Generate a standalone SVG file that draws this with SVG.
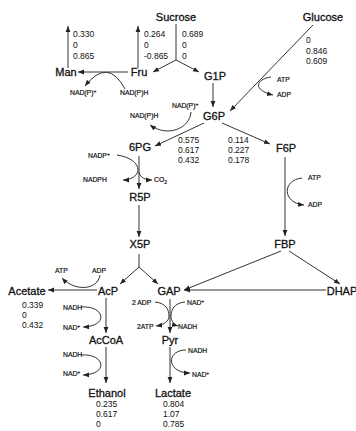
<svg xmlns="http://www.w3.org/2000/svg" width="356" height="431" viewBox="0 0 356 431">
<style>
text{font-family:"Liberation Sans",Arial,sans-serif;fill:#111}
.n{font-size:11px;text-anchor:middle;stroke:#111;stroke-width:0.3}
.v{font-size:8.5px}
.c{font-size:6.8px;stroke:#111;stroke-width:0.2}
.s{font-size:5px}
line,path{stroke:#333;stroke-width:1;fill:none}
.a{marker-end:url(#ah)}
</style>
<defs>
<marker id="ah" viewBox="0 0 6 6" refX="6" refY="3" markerWidth="6" markerHeight="6" orient="auto" markerUnits="userSpaceOnUse">
<path d="M0,0.6 L6,3 L0,5.4 z" style="fill:#222;stroke:none"/>
</marker>
</defs>
<rect width="356" height="431" fill="#fff"/>
<g id="connectors">
<line class="a" x1="68" y1="68" x2="68" y2="26"/>
<line class="a" x1="138" y1="68" x2="138" y2="26"/>
<line x1="176" y1="24" x2="176" y2="60"/>
<line class="a" x1="176" y1="60" x2="153" y2="72"/>
<line class="a" x1="176" y1="60" x2="199" y2="72"/>
<line class="a" x1="128" y1="72" x2="78" y2="72"/>
<path class="a" d="M125,89 Q108,57 85,86"/>
<line class="a" x1="213" y1="83" x2="213" y2="107"/>
<line class="a" x1="313" y1="25" x2="230" y2="111"/>
<path class="a" d="M271,77 C256,79 252,90 273,95"/>
<path class="a" d="M191,112 C190,128 168,138 150,125"/>
<line class="a" x1="204" y1="123" x2="155" y2="146"/>
<line class="a" x1="222" y1="123" x2="270" y2="144"/>
<line class="a" x1="139" y1="156" x2="139" y2="189"/>
<path class="a" d="M117,155 C130,157 138,163 138,170 C138,176 130,180 123,180"/>
<path class="a" d="M139,172 C140,178 146,180 152,180"/>
<line class="a" x1="139" y1="205" x2="139" y2="237"/>
<line x1="139" y1="254" x2="139" y2="267"/>
<line class="a" x1="139" y1="267" x2="120" y2="284"/>
<line class="a" x1="139" y1="267" x2="158" y2="284"/>
<line class="a" x1="97" y1="290" x2="48" y2="290"/>
<path class="a" d="M100,275 C98,290 75,292 62,278"/>
<line class="a" x1="106" y1="298" x2="106" y2="333"/>
<path class="a" d="M81,307 C104,305 110,326 83,327"/>
<line class="a" x1="106" y1="347" x2="106" y2="383"/>
<path class="a" d="M81,355 C104,353 110,374 83,375"/>
<line class="a" x1="170" y1="299" x2="170" y2="333"/>
<path class="a" d="M155,302 C166,303 169,310 169,316 C169,321 164,325 156,326"/>
<path class="a" d="M185,302 C174,303 171,310 171,316 C171,321 174,325 178,326"/>
<line class="a" x1="170" y1="347" x2="170" y2="383"/>
<path class="a" d="M186,350 C166,350 166,373 190,373"/>
<line class="a" x1="285" y1="157" x2="285" y2="236"/>
<path class="a" d="M302,178 C282,180 282,203 304,205"/>
<line class="a" x1="281" y1="251" x2="184" y2="290"/>
<line class="a" x1="289" y1="251" x2="340" y2="284"/>
<line class="a" x1="326" y1="290" x2="184" y2="290"/>
</g>
<g id="node-sucrose"><text class="n" x="176" y="21">Sucrose</text></g>
<g id="node-glucose"><text class="n" x="323" y="21">Glucose</text></g>
<g id="node-man"><text class="n" x="66" y="76">Man</text></g>
<g id="node-fru"><text class="n" x="139" y="76">Fru</text></g>
<g id="node-g1p"><text class="n" x="215" y="80">G1P</text></g>
<g id="node-g6p"><text class="n" x="214" y="120">G6P</text></g>
<g id="node-6pg"><text class="n" x="140" y="151">6PG</text></g>
<g id="node-f6p"><text class="n" x="286" y="152">F6P</text></g>
<g id="node-r5p"><text class="n" x="140" y="201">R5P</text></g>
<g id="node-x5p"><text class="n" x="140" y="248">X5P</text></g>
<g id="node-fbp"><text class="n" x="285" y="248">FBP</text></g>
<g id="node-acetate"><text class="n" x="27" y="295">Acetate</text></g>
<g id="node-acp"><text class="n" x="108" y="295">AcP</text></g>
<g id="node-gap"><text class="n" x="169" y="295">GAP</text></g>
<g id="node-dhap"><text class="n" x="342" y="295">DHAP</text></g>
<g id="node-accoa"><text class="n" x="106" y="344">AcCoA</text></g>
<g id="node-pyr"><text class="n" x="170" y="344">Pyr</text></g>
<g id="node-ethanol"><text class="n" x="107" y="397">Ethanol</text></g>
<g id="node-lactate"><text class="n" x="173" y="397">Lactate</text></g>
<g id="values">
<text class="v" x="73" y="37">0.330</text><text class="v" x="73" y="48">0</text><text class="v" x="73" y="59">0.865</text>
<text class="v" x="144" y="37">0.264</text><text class="v" x="144" y="48">0</text><text class="v" x="144" y="59">-0.865</text>
<text class="v" x="182" y="37">0.689</text><text class="v" x="182" y="48">0</text><text class="v" x="182" y="59">0</text>
<text class="v" x="306" y="43">0</text><text class="v" x="306" y="53.5">0.846</text><text class="v" x="306" y="64">0.609</text>
<text class="v" x="178" y="143">0.575</text><text class="v" x="178" y="153">0.617</text><text class="v" x="178" y="163">0.432</text>
<text class="v" x="228" y="143">0.114</text><text class="v" x="228" y="153">0.227</text><text class="v" x="228" y="163">0.178</text>
<text class="v" x="22" y="308">0.339</text><text class="v" x="22" y="318">0</text><text class="v" x="22" y="328">0.432</text>
<text class="v" x="96" y="407">0.235</text><text class="v" x="96" y="417">0.617</text><text class="v" x="96" y="427">0</text>
<text class="v" x="163" y="407">0.804</text><text class="v" x="163" y="417">1.07</text><text class="v" x="163" y="427">0.785</text>
</g>
<g id="cofactors">
<text class="c" x="70" y="95">NAD(P)<tspan class="s" dy="-2.5">+</tspan></text>
<text class="c" x="120" y="95">NAD(P)H</text>
<text class="c" x="172" y="108">NAD(P)<tspan class="s" dy="-2.5">+</tspan></text>
<text class="c" x="130" y="118">NAD(P)H</text>
<text class="c" x="88" y="158">NADP<tspan class="s" dy="-2.5">+</tspan></text>
<text class="c" x="83" y="182">NADPH</text>
<text class="c" x="154" y="182">CO<tspan class="s" dy="1.5">2</tspan></text>
<text class="c" x="277" y="82">ATP</text>
<text class="c" x="277" y="97">ADP</text>
<text class="c" x="308" y="180">ATP</text>
<text class="c" x="308" y="207">ADP</text>
<text class="c" x="55" y="273">ATP</text>
<text class="c" x="92" y="273">ADP</text>
<text class="c" x="63" y="310">NADH</text>
<text class="c" x="63" y="330">NAD<tspan class="s" dy="-2.5">+</tspan></text>
<text class="c" x="132" y="305">2 ADP</text>
<text class="c" x="187" y="305">NAD<tspan class="s" dy="-2.5">+</tspan></text>
<text class="c" x="137" y="329">2ATP</text>
<text class="c" x="178" y="329">NADH</text>
<text class="c" x="63" y="357">NADH</text>
<text class="c" x="63" y="376">NAD<tspan class="s" dy="-2.5">+</tspan></text>
<text class="c" x="188" y="353">NADH</text>
<text class="c" x="192" y="377">NAD<tspan class="s" dy="-2.5">+</tspan></text>
</g>
</svg>
